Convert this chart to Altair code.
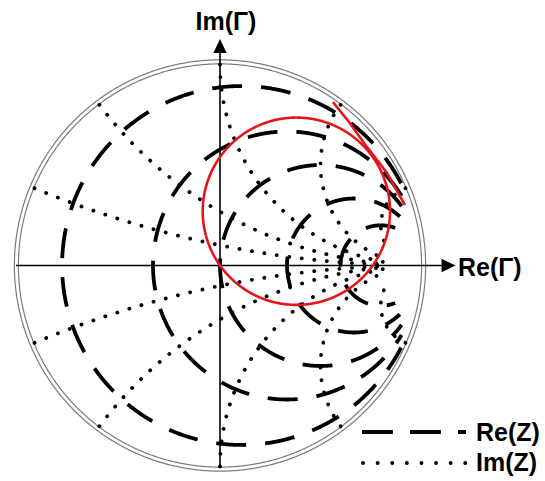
import numpy as np
import pandas as pd
import altair as alt

# ---- Smith-chart grid values -------------------------------------------
resistance_circles = [0.12, 0.5, 1.0, 2.0, 4.0]   # dashed: constant Re(Z)
reactance_arcs = [0.2, 0.5, 1.0, 2.0, 5.0]        # dotted: constant Im(Z), +x and -x
rim_radii = [1.003, 1.023]                         # double outer rim

# red locus: a circle through the origin and a short trace near the rim
locus_center_re = 0.38
locus_center_im = 0.27
locus_radius = 0.466
trace_re = [0.562, 0.642, 0.731, 0.831, 0.920]
trace_im = [0.813, 0.714, 0.590, 0.460, 0.301]

# axis extents (Γ units)
re_axis = [-1.015, 1.104]
im_axis = [-1.003, 1.057]
arrow_re_tip = 1.137
arrow_im_tip = 1.092

# ---- scale set-up (Γ units -> pixels) -----------------------------------
W, H = 545, 481
U, OX, OY = 201.0, 220.0, 265.5
xs = alt.Scale(domain=[-OX / U, (W - OX) / U], nice=False, zero=False)
ys = alt.Scale(domain=[-(H - OY) / U, OY / U], nice=False, zero=False)

rows = []


def add(kind, gid, gx, gy):
    for i, (a, b) in enumerate(zip(gx, gy)):
        rows.append({"kind": kind, "gid": gid, "i": i, "re": float(a), "im": float(b)})


th = np.linspace(0.0, 2.0 * np.pi, 1441)

for k, rr in enumerate(rim_radii):
    add("rim", f"rim{k}", rr * np.cos(th), rr * np.sin(th))

# circles stop short of the Γ = 1 point where they all crowd together
for r in resistance_circles:
    c, rho = r / (1 + r), 1 / (1 + r)
    gx, gy = c + rho * np.cos(th), rho * np.sin(th)
    keep = np.hypot(gx - 1, gy) > 0.17 + 0.28 * rho
    add("res", f"r{r}", gx[keep], gy[keep])

s = np.linspace(0.0, np.pi / 2, 4000)[:-1]
for x in reactance_arcs:
    for sgn in (1, -1):
        z = np.tan(s) + 1j * sgn * x
        g = (z - 1) / (z + 1)
        keep = np.abs(g - 1) > 0.19
        add("rea", f"x{sgn * x}", g.real[keep], g.imag[keep])

add("locus", "circle",
    locus_center_re + locus_radius * np.cos(th),
    locus_center_im + locus_radius * np.sin(th))
add("trace", "trace", trace_re, trace_im)

add("axis", "h", re_axis, [0.0, 0.0])
add("axis", "v", [0.0, 0.0], im_axis)

df = pd.DataFrame(rows)
enc = dict(
    x=alt.X("re:Q", scale=xs, axis=None),
    y=alt.Y("im:Q", scale=ys, axis=None),
    detail="gid:N",
    order="i:Q",
)

base = alt.Chart(df)
rim = base.transform_filter("datum.kind == 'rim'").mark_line(
    color="#7a7a7a", strokeWidth=1.2).encode(**enc)
res = base.transform_filter("datum.kind == 'res'").mark_line(
    color="black", strokeWidth=3.8, strokeDash=[30, 19]).encode(**enc)
rea = base.transform_filter("datum.kind == 'rea'").mark_line(
    color="black", strokeWidth=3.8, strokeDash=[0.1, 12.5], strokeCap="round").encode(**enc)
axes = base.transform_filter("datum.kind == 'axis'").mark_line(
    color="black", strokeWidth=1.6).encode(**enc)
locus = base.transform_filter("datum.kind == 'locus' || datum.kind == 'trace'").mark_line(
    color="#e3161c", strokeWidth=2.6).encode(**enc)

heads = pd.DataFrame({"re": [arrow_re_tip], "im": [0.0]})
heads_up = pd.DataFrame({"re": [0.0], "im": [arrow_im_tip]})
head_r = alt.Chart(heads).mark_point(
    shape="M-1,-0.95L1,0L-1,0.95Z", filled=True, size=196, color="black", opacity=1
).encode(x=alt.X("re:Q", scale=xs, axis=None), y=alt.Y("im:Q", scale=ys, axis=None))
head_u = alt.Chart(heads_up).mark_point(
    shape="M-0.95,1L0,-1L0.95,1Z", filled=True, size=196, color="black", opacity=1
).encode(x=alt.X("re:Q", scale=xs, axis=None), y=alt.Y("im:Q", scale=ys, axis=None))

one = pd.DataFrame({"k": [0]})
font = dict(font="Liberation Sans", fontWeight="bold", fontSize=25, color="black",
            baseline="alphabetic")


def label(text, px, py, align="left"):
    return alt.Chart(one).mark_text(text=text, align=align, **font).encode(
        x=alt.value(px), y=alt.value(py))


lab_re = label("Re(Γ)", 458, 276)
lab_im = label("Im(Γ)", 226, 30, align="center")
leg_re_txt = label("Re(Z)", 476, 441)
leg_im_txt = label("Im(Z)", 476, 471)

leg_re_line = alt.Chart(one).mark_rule(
    color="black", strokeWidth=3.8, strokeDash=[31, 17]).encode(
    x=alt.value(362), x2=alt.value(466), y=alt.value(432))
leg_im_line = alt.Chart(one).mark_rule(
    color="black", strokeWidth=3.8, strokeDash=[0.1, 14.5], strokeCap="round").encode(
    x=alt.value(363), x2=alt.value(468), y=alt.value(463))

chart = alt.layer(
    rim, res, rea, axes, locus, head_r, head_u,
    lab_re, lab_im, leg_re_line, leg_im_line, leg_re_txt, leg_im_txt,
).properties(
    width=W, height=H, padding=0, autosize=alt.AutoSizeParams(type="none"),
    background="white",
).configure_view(stroke=None)

chart.save("out.html", embed_options={"renderer": "svg", "actions": False})
